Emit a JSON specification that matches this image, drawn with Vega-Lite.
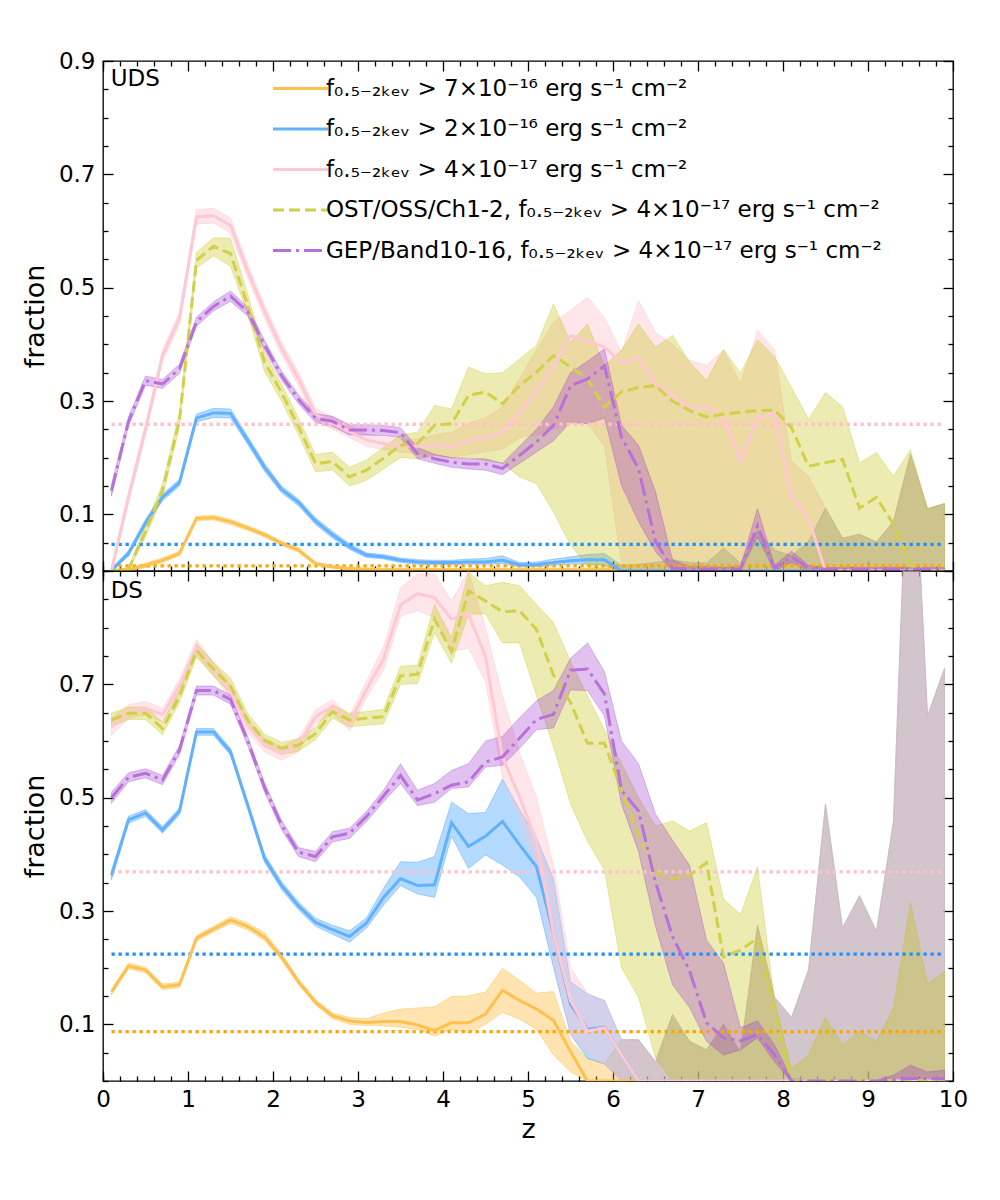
{
  "$schema": "https://vega.github.io/schema/vega-lite/v6.json",
  "padding": {"left": 20, "top": 49, "right": 5, "bottom": 5},
  "config": {
    "font": "DejaVu Sans",
    "view": {"stroke": "black", "strokeWidth": 1.3},
    "axis": {"domain": false, "grid": false, "tickColor": "black", "tickWidth": 1.3, "labelFont": "DejaVu Sans", "titleFont": "DejaVu Sans", "labelColor": "black", "titleColor": "black", "labelFontSize": 23, "titleFontSize": 27, "titleFontWeight": "normal", "labelFlush": false, "zindex": 1},
    "legend": {"labelFont": "DejaVu Sans"}
  },
  "datasets": {
    "uds": [
      {"s":"a","z":0.1,"m":0,"lo":0,"hi":0.003},{"s":"a","z":0.3,"m":0.002,"lo":0,"hi":0.005},{"s":"a","z":0.5,"m":0.01,"lo":0.006,"hi":0.014},{"s":"a","z":0.7,"m":0.019,"lo":0.015,"hi":0.023},{"s":"a","z":0.9,"m":0.031,"lo":0.027,"hi":0.035},
      {"s":"a","z":1.1,"m":0.093,"lo":0.089,"hi":0.097},{"s":"a","z":1.3,"m":0.094,"lo":0.09,"hi":0.098},{"s":"a","z":1.5,"m":0.087,"lo":0.082,"hi":0.091},{"s":"a","z":1.7,"m":0.076,"lo":0.072,"hi":0.08},{"s":"a","z":1.9,"m":0.064,"lo":0.06,"hi":0.068},
      {"s":"a","z":2.1,"m":0.049,"lo":0.045,"hi":0.053},{"s":"a","z":2.3,"m":0.037,"lo":0.033,"hi":0.041},{"s":"a","z":2.5,"m":0.013,"lo":0.01,"hi":0.016},{"s":"a","z":2.7,"m":0.007,"lo":0.005,"hi":0.01},{"s":"a","z":2.9,"m":0.004,"lo":0.002,"hi":0.006},
      {"s":"a","z":3.1,"m":0.003,"lo":0.001,"hi":0.005},{"s":"a","z":3.3,"m":0.002,"lo":0.001,"hi":0.004},{"s":"a","z":3.5,"m":0.002,"lo":0.001,"hi":0.004},{"s":"a","z":3.7,"m":0.002,"lo":0.001,"hi":0.004},{"s":"a","z":3.9,"m":0.002,"lo":0.001,"hi":0.004},
      {"s":"a","z":4.1,"m":0.002,"lo":0.001,"hi":0.004},{"s":"a","z":4.3,"m":0.002,"lo":0.001,"hi":0.004},{"s":"a","z":4.5,"m":0.002,"lo":0.001,"hi":0.004},{"s":"a","z":4.7,"m":0.002,"lo":0.001,"hi":0.004},{"s":"a","z":4.9,"m":0.002,"lo":0.001,"hi":0.004},
      {"s":"a","z":5.1,"m":0.002,"lo":0.001,"hi":0.004},{"s":"a","z":5.3,"m":0.002,"lo":0.001,"hi":0.004},{"s":"a","z":5.5,"m":0.002,"lo":0.001,"hi":0.004},{"s":"a","z":5.7,"m":0.002,"lo":0.001,"hi":0.004},{"s":"a","z":5.9,"m":0.002,"lo":0.001,"hi":0.004},
      {"s":"a","z":6.1,"m":0,"lo":0,"hi":0.01},{"s":"a","z":6.3,"m":0,"lo":0,"hi":0.012},{"s":"a","z":6.5,"m":0,"lo":0,"hi":0.015},{"s":"a","z":6.7,"m":0,"lo":0,"hi":0.02},{"s":"a","z":6.9,"m":0,"lo":0,"hi":0.015},
      {"s":"a","z":7.1,"m":0,"lo":0,"hi":0.014},{"s":"a","z":7.3,"m":0,"lo":0,"hi":0.04},{"s":"a","z":7.5,"m":0,"lo":0,"hi":0.014},{"s":"a","z":7.7,"m":0,"lo":0,"hi":0.07},{"s":"a","z":7.9,"m":0,"lo":0,"hi":0.037},
      {"s":"a","z":8.1,"m":0,"lo":0,"hi":0.027},{"s":"a","z":8.3,"m":0,"lo":0,"hi":0.052},{"s":"a","z":8.5,"m":0,"lo":0,"hi":0.111},{"s":"a","z":8.7,"m":0,"lo":0,"hi":0.058},{"s":"a","z":8.9,"m":0,"lo":0,"hi":0.065},
      {"s":"a","z":9.1,"m":0,"lo":0,"hi":0.051},{"s":"a","z":9.3,"m":0,"lo":0,"hi":0.088},{"s":"a","z":9.5,"m":0,"lo":0,"hi":0.206},{"s":"a","z":9.7,"m":0,"lo":0,"hi":0.11},{"s":"a","z":9.9,"m":0,"lo":0,"hi":0.119},

      {"s":"b","z":0.1,"m":0.001,"lo":0,"hi":0.005},{"s":"b","z":0.3,"m":0.031,"lo":0.026,"hi":0.036},{"s":"b","z":0.5,"m":0.085,"lo":0.079,"hi":0.091},{"s":"b","z":0.7,"m":0.13,"lo":0.124,"hi":0.136},{"s":"b","z":0.9,"m":0.156,"lo":0.15,"hi":0.162},
      {"s":"b","z":1.1,"m":0.27,"lo":0.263,"hi":0.277},{"s":"b","z":1.3,"m":0.279,"lo":0.271,"hi":0.287},{"s":"b","z":1.5,"m":0.278,"lo":0.27,"hi":0.286},{"s":"b","z":1.7,"m":0.231,"lo":0.224,"hi":0.238},{"s":"b","z":1.9,"m":0.183,"lo":0.176,"hi":0.19},
      {"s":"b","z":2.1,"m":0.144,"lo":0.138,"hi":0.15},{"s":"b","z":2.3,"m":0.121,"lo":0.115,"hi":0.127},{"s":"b","z":2.5,"m":0.088,"lo":0.082,"hi":0.094},{"s":"b","z":2.7,"m":0.064,"lo":0.058,"hi":0.07},{"s":"b","z":2.9,"m":0.043,"lo":0.038,"hi":0.048},
      {"s":"b","z":3.1,"m":0.028,"lo":0.024,"hi":0.032},{"s":"b","z":3.3,"m":0.025,"lo":0.021,"hi":0.029},{"s":"b","z":3.5,"m":0.019,"lo":0.015,"hi":0.023},{"s":"b","z":3.7,"m":0.016,"lo":0.012,"hi":0.02},{"s":"b","z":3.9,"m":0.015,"lo":0.011,"hi":0.019},
      {"s":"b","z":4.1,"m":0.015,"lo":0.011,"hi":0.019},{"s":"b","z":4.3,"m":0.016,"lo":0.012,"hi":0.021},{"s":"b","z":4.5,"m":0.016,"lo":0.012,"hi":0.022},{"s":"b","z":4.7,"m":0.019,"lo":0.013,"hi":0.027},{"s":"b","z":4.9,"m":0.011,"lo":0.007,"hi":0.015},
      {"s":"b","z":5.1,"m":0.011,"lo":0.007,"hi":0.016},{"s":"b","z":5.3,"m":0.015,"lo":0.01,"hi":0.021},{"s":"b","z":5.5,"m":0.018,"lo":0.012,"hi":0.025},{"s":"b","z":5.7,"m":0.02,"lo":0.012,"hi":0.029},{"s":"b","z":5.9,"m":0.02,"lo":0.01,"hi":0.031},
      {"s":"b","z":6.1,"m":0,"lo":0,"hi":0.01},{"s":"b","z":6.3,"m":0,"lo":0,"hi":0.012},{"s":"b","z":6.5,"m":0,"lo":0,"hi":0.015},{"s":"b","z":6.7,"m":0,"lo":0,"hi":0.02},{"s":"b","z":6.9,"m":0,"lo":0,"hi":0.015},
      {"s":"b","z":7.1,"m":0,"lo":0,"hi":0.014},{"s":"b","z":7.3,"m":0,"lo":0,"hi":0.04},{"s":"b","z":7.5,"m":0,"lo":0,"hi":0.014},{"s":"b","z":7.7,"m":0,"lo":0,"hi":0.07},{"s":"b","z":7.9,"m":0,"lo":0,"hi":0.037},
      {"s":"b","z":8.1,"m":0,"lo":0,"hi":0.027},{"s":"b","z":8.3,"m":0,"lo":0,"hi":0.052},{"s":"b","z":8.5,"m":0,"lo":0,"hi":0.111},{"s":"b","z":8.7,"m":0,"lo":0,"hi":0.058},{"s":"b","z":8.9,"m":0,"lo":0,"hi":0.065},
      {"s":"b","z":9.1,"m":0,"lo":0,"hi":0.051},{"s":"b","z":9.3,"m":0,"lo":0,"hi":0.088},{"s":"b","z":9.5,"m":0,"lo":0,"hi":0.206},{"s":"b","z":9.7,"m":0,"lo":0,"hi":0.11},{"s":"b","z":9.9,"m":0,"lo":0,"hi":0.119},

      {"s":"c","z":0.1,"m":0,"lo":0,"hi":0.01},{"s":"c","z":0.3,"m":0.13,"lo":0.12,"hi":0.14},{"s":"c","z":0.5,"m":0.25,"lo":0.24,"hi":0.26},{"s":"c","z":0.7,"m":0.38,"lo":0.37,"hi":0.39},{"s":"c","z":0.9,"m":0.446,"lo":0.435,"hi":0.457},
      {"s":"c","z":1.1,"m":0.625,"lo":0.612,"hi":0.638},{"s":"c","z":1.3,"m":0.627,"lo":0.614,"hi":0.64},{"s":"c","z":1.5,"m":0.61,"lo":0.597,"hi":0.623},{"s":"c","z":1.7,"m":0.53,"lo":0.518,"hi":0.542},{"s":"c","z":1.9,"m":0.458,"lo":0.446,"hi":0.47},
      {"s":"c","z":2.1,"m":0.393,"lo":0.381,"hi":0.405},{"s":"c","z":2.3,"m":0.339,"lo":0.327,"hi":0.351},{"s":"c","z":2.5,"m":0.276,"lo":0.265,"hi":0.287},{"s":"c","z":2.7,"m":0.261,"lo":0.25,"hi":0.272},{"s":"c","z":2.9,"m":0.246,"lo":0.235,"hi":0.257},
      {"s":"c","z":3.1,"m":0.231,"lo":0.22,"hi":0.242},{"s":"c","z":3.3,"m":0.225,"lo":0.214,"hi":0.236},{"s":"c","z":3.5,"m":0.221,"lo":0.21,"hi":0.232},{"s":"c","z":3.7,"m":0.22,"lo":0.207,"hi":0.233},{"s":"c","z":3.9,"m":0.222,"lo":0.205,"hi":0.24},
      {"s":"c","z":4.1,"m":0.219,"lo":0.2,"hi":0.245},{"s":"c","z":4.3,"m":0.23,"lo":0.205,"hi":0.26},{"s":"c","z":4.5,"m":0.236,"lo":0.21,"hi":0.27},{"s":"c","z":4.7,"m":0.245,"lo":0.215,"hi":0.29},{"s":"c","z":4.9,"m":0.28,"lo":0.235,"hi":0.34},
      {"s":"c","z":5.1,"m":0.316,"lo":0.24,"hi":0.39},{"s":"c","z":5.3,"m":0.362,"lo":0.25,"hi":0.44},{"s":"c","z":5.5,"m":0.415,"lo":0.26,"hi":0.46},{"s":"c","z":5.7,"m":0.406,"lo":0.26,"hi":0.483},{"s":"c","z":5.9,"m":0.395,"lo":0.22,"hi":0.447},
      {"s":"c","z":6.1,"m":0.368,"lo":0.01,"hi":0.386},{"s":"c","z":6.3,"m":0.377,"lo":0,"hi":0.477},{"s":"c","z":6.5,"m":0.33,"lo":0,"hi":0.421},{"s":"c","z":6.7,"m":0.31,"lo":0,"hi":0.4},{"s":"c","z":6.9,"m":0.288,"lo":0,"hi":0.372},
      {"s":"c","z":7.1,"m":0.291,"lo":0,"hi":0.363},{"s":"c","z":7.3,"m":0.271,"lo":0,"hi":0.39},{"s":"c","z":7.5,"m":0.194,"lo":0,"hi":0.33},{"s":"c","z":7.7,"m":0.271,"lo":0,"hi":0.425},{"s":"c","z":7.9,"m":0.277,"lo":0,"hi":0.39},
      {"s":"c","z":8.1,"m":0.132,"lo":0,"hi":0.194},{"s":"c","z":8.3,"m":0.093,"lo":0,"hi":0.167},{"s":"c","z":8.5,"m":0,"lo":0,"hi":0.111},{"s":"c","z":8.7,"m":0,"lo":0,"hi":0.058},{"s":"c","z":8.9,"m":0,"lo":0,"hi":0.065},
      {"s":"c","z":9.1,"m":0,"lo":0,"hi":0.051},{"s":"c","z":9.3,"m":0,"lo":0,"hi":0.088},{"s":"c","z":9.5,"m":0,"lo":0,"hi":0.206},{"s":"c","z":9.7,"m":0,"lo":0,"hi":0.11},{"s":"c","z":9.9,"m":0,"lo":0,"hi":0.119},

      {"s":"d","z":0.1,"m":0,"lo":0,"hi":0.002},{"s":"d","z":0.3,"m":0.003,"lo":0,"hi":0.006},{"s":"d","z":0.5,"m":0.07,"lo":0.06,"hi":0.08},{"s":"d","z":0.7,"m":0.142,"lo":0.13,"hi":0.154},{"s":"d","z":0.9,"m":0.267,"lo":0.255,"hi":0.28},
      {"s":"d","z":1.1,"m":0.548,"lo":0.535,"hi":0.562},{"s":"d","z":1.3,"m":0.573,"lo":0.556,"hi":0.588},{"s":"d","z":1.5,"m":0.56,"lo":0.538,"hi":0.587},{"s":"d","z":1.7,"m":0.47,"lo":0.455,"hi":0.49},{"s":"d","z":1.9,"m":0.369,"lo":0.352,"hi":0.386},
      {"s":"d","z":2.1,"m":0.315,"lo":0.3,"hi":0.33},{"s":"d","z":2.3,"m":0.255,"lo":0.24,"hi":0.27},{"s":"d","z":2.5,"m":0.19,"lo":0.175,"hi":0.205},{"s":"d","z":2.7,"m":0.193,"lo":0.178,"hi":0.21},{"s":"d","z":2.9,"m":0.166,"lo":0.15,"hi":0.183},
      {"s":"d","z":3.1,"m":0.178,"lo":0.16,"hi":0.196},{"s":"d","z":3.3,"m":0.199,"lo":0.18,"hi":0.218},{"s":"d","z":3.5,"m":0.222,"lo":0.2,"hi":0.24},{"s":"d","z":3.7,"m":0.225,"lo":0.198,"hi":0.245},{"s":"d","z":3.9,"m":0.257,"lo":0.204,"hi":0.292},
      {"s":"d","z":4.1,"m":0.26,"lo":0.2,"hi":0.286},{"s":"d","z":4.3,"m":0.31,"lo":0.2,"hi":0.36},{"s":"d","z":4.5,"m":0.316,"lo":0.195,"hi":0.348},{"s":"d","z":4.7,"m":0.295,"lo":0.19,"hi":0.35},{"s":"d","z":4.9,"m":0.327,"lo":0.166,"hi":0.374},
      {"s":"d","z":5.1,"m":0.351,"lo":0.154,"hi":0.398},{"s":"d","z":5.3,"m":0.38,"lo":0.104,"hi":0.471},{"s":"d","z":5.5,"m":0.36,"lo":0.046,"hi":0.404},{"s":"d","z":5.7,"m":0.339,"lo":0.008,"hi":0.436},{"s":"d","z":5.9,"m":0.289,"lo":0,"hi":0.362},
      {"s":"d","z":6.1,"m":0.316,"lo":0,"hi":0.39},{"s":"d","z":6.3,"m":0.324,"lo":0,"hi":0.436},{"s":"d","z":6.5,"m":0.327,"lo":0,"hi":0.395},{"s":"d","z":6.7,"m":0.3,"lo":0,"hi":0.416},{"s":"d","z":6.9,"m":0.283,"lo":0,"hi":0.369},
      {"s":"d","z":7.1,"m":0.272,"lo":0,"hi":0.336},{"s":"d","z":7.3,"m":0.277,"lo":0,"hi":0.391},{"s":"d","z":7.5,"m":0.28,"lo":0,"hi":0.349},{"s":"d","z":7.7,"m":0.283,"lo":0,"hi":0.408},{"s":"d","z":7.9,"m":0.284,"lo":0,"hi":0.378},
      {"s":"d","z":8.1,"m":0.253,"lo":0,"hi":0.324},{"s":"d","z":8.3,"m":0.185,"lo":0,"hi":0.268},{"s":"d","z":8.5,"m":0.191,"lo":0,"hi":0.315},{"s":"d","z":8.7,"m":0.197,"lo":0,"hi":0.29},{"s":"d","z":8.9,"m":0.111,"lo":0,"hi":0.191},
      {"s":"d","z":9.1,"m":0.13,"lo":0,"hi":0.209},{"s":"d","z":9.3,"m":0.082,"lo":0,"hi":0.167},{"s":"d","z":9.5,"m":0.01,"lo":0,"hi":0.214},{"s":"d","z":9.7,"m":0,"lo":0,"hi":0.11},{"s":"d","z":9.9,"m":0,"lo":0,"hi":0.119},

      {"s":"e","z":0.1,"m":0.142,"lo":0.132,"hi":0.152},{"s":"e","z":0.3,"m":0.264,"lo":0.256,"hi":0.272},{"s":"e","z":0.5,"m":0.336,"lo":0.328,"hi":0.344},{"s":"e","z":0.7,"m":0.33,"lo":0.322,"hi":0.338},{"s":"e","z":0.9,"m":0.357,"lo":0.349,"hi":0.365},
      {"s":"e","z":1.1,"m":0.44,"lo":0.432,"hi":0.448},{"s":"e","z":1.3,"m":0.467,"lo":0.459,"hi":0.475},{"s":"e","z":1.5,"m":0.485,"lo":0.476,"hi":0.494},{"s":"e","z":1.7,"m":0.458,"lo":0.45,"hi":0.466},{"s":"e","z":1.9,"m":0.399,"lo":0.391,"hi":0.407},
      {"s":"e","z":2.1,"m":0.345,"lo":0.337,"hi":0.353},{"s":"e","z":2.3,"m":0.303,"lo":0.295,"hi":0.311},{"s":"e","z":2.5,"m":0.27,"lo":0.262,"hi":0.278},{"s":"e","z":2.7,"m":0.264,"lo":0.255,"hi":0.273},{"s":"e","z":2.9,"m":0.249,"lo":0.24,"hi":0.258},
      {"s":"e","z":3.1,"m":0.249,"lo":0.24,"hi":0.258},{"s":"e","z":3.3,"m":0.248,"lo":0.239,"hi":0.257},{"s":"e","z":3.5,"m":0.244,"lo":0.235,"hi":0.253},{"s":"e","z":3.7,"m":0.207,"lo":0.198,"hi":0.218},{"s":"e","z":3.9,"m":0.198,"lo":0.19,"hi":0.206},
      {"s":"e","z":4.1,"m":0.192,"lo":0.183,"hi":0.2},{"s":"e","z":4.3,"m":0.189,"lo":0.18,"hi":0.198},{"s":"e","z":4.5,"m":0.189,"lo":0.178,"hi":0.198},{"s":"e","z":4.7,"m":0.181,"lo":0.17,"hi":0.19},{"s":"e","z":4.9,"m":0.204,"lo":0.19,"hi":0.22},
      {"s":"e","z":5.1,"m":0.228,"lo":0.21,"hi":0.25},{"s":"e","z":5.3,"m":0.257,"lo":0.23,"hi":0.29},{"s":"e","z":5.5,"m":0.327,"lo":0.263,"hi":0.35},{"s":"e","z":5.7,"m":0.339,"lo":0.26,"hi":0.37},{"s":"e","z":5.9,"m":0.362,"lo":0.27,"hi":0.392},
      {"s":"e","z":6.1,"m":0.236,"lo":0.151,"hi":0.257},{"s":"e","z":6.3,"m":0.181,"lo":0.087,"hi":0.222},{"s":"e","z":6.5,"m":0.052,"lo":0.034,"hi":0.14},{"s":"e","z":6.7,"m":0.005,"lo":0,"hi":0.02},{"s":"e","z":6.9,"m":0.003,"lo":0,"hi":0.008},
      {"s":"e","z":7.1,"m":0.003,"lo":0,"hi":0.008},{"s":"e","z":7.3,"m":0.002,"lo":0,"hi":0.006},{"s":"e","z":7.5,"m":0.003,"lo":0,"hi":0.008},{"s":"e","z":7.7,"m":0.08,"lo":0.06,"hi":0.11},{"s":"e","z":7.9,"m":0.005,"lo":0,"hi":0.01},
      {"s":"e","z":8.1,"m":0.025,"lo":0.015,"hi":0.035},{"s":"e","z":8.3,"m":0.005,"lo":0,"hi":0.01},{"s":"e","z":8.5,"m":0.003,"lo":0,"hi":0.006},{"s":"e","z":8.7,"m":0.003,"lo":0,"hi":0.006},{"s":"e","z":8.9,"m":0.003,"lo":0,"hi":0.006},
      {"s":"e","z":9.1,"m":0.003,"lo":0,"hi":0.006},{"s":"e","z":9.3,"m":0.003,"lo":0,"hi":0.006},{"s":"e","z":9.5,"m":0.003,"lo":0,"hi":0.006},{"s":"e","z":9.7,"m":0.003,"lo":0,"hi":0.006},{"s":"e","z":9.9,"m":0.003,"lo":0,"hi":0.006}
    ],
    "ds": [
      {"s":"a","z":0.1,"m":0.157,"lo":0.152,"hi":0.162},{"s":"a","z":0.3,"m":0.203,"lo":0.198,"hi":0.208},{"s":"a","z":0.5,"m":0.196,"lo":0.191,"hi":0.201},{"s":"a","z":0.7,"m":0.166,"lo":0.161,"hi":0.171},{"s":"a","z":0.9,"m":0.17,"lo":0.165,"hi":0.175},
      {"s":"a","z":1.1,"m":0.252,"lo":0.247,"hi":0.257},{"s":"a","z":1.3,"m":0.268,"lo":0.263,"hi":0.273},{"s":"a","z":1.5,"m":0.284,"lo":0.278,"hi":0.29},{"s":"a","z":1.7,"m":0.273,"lo":0.267,"hi":0.279},{"s":"a","z":1.9,"m":0.254,"lo":0.248,"hi":0.262},
      {"s":"a","z":2.1,"m":0.219,"lo":0.213,"hi":0.225},{"s":"a","z":2.3,"m":0.175,"lo":0.17,"hi":0.18},{"s":"a","z":2.5,"m":0.139,"lo":0.134,"hi":0.144},{"s":"a","z":2.7,"m":0.115,"lo":0.11,"hi":0.12},{"s":"a","z":2.9,"m":0.106,"lo":0.1,"hi":0.112},
      {"s":"a","z":3.1,"m":0.103,"lo":0.098,"hi":0.11},{"s":"a","z":3.3,"m":0.105,"lo":0.097,"hi":0.12},{"s":"a","z":3.5,"m":0.105,"lo":0.095,"hi":0.127},{"s":"a","z":3.7,"m":0.099,"lo":0.091,"hi":0.129},{"s":"a","z":3.9,"m":0.089,"lo":0.079,"hi":0.131},
      {"s":"a","z":4.1,"m":0.103,"lo":0.091,"hi":0.149},{"s":"a","z":4.3,"m":0.103,"lo":0.085,"hi":0.15},{"s":"a","z":4.5,"m":0.118,"lo":0.1,"hi":0.157},{"s":"a","z":4.7,"m":0.16,"lo":0.121,"hi":0.199},{"s":"a","z":4.9,"m":0.142,"lo":0.109,"hi":0.178},
      {"s":"a","z":5.1,"m":0.127,"lo":0.091,"hi":0.155},{"s":"a","z":5.3,"m":0.107,"lo":0.046,"hi":0.158},{"s":"a","z":5.5,"m":0.052,"lo":0.016,"hi":0.07},{"s":"a","z":5.7,"m":0,"lo":0,"hi":0.04},{"s":"a","z":5.9,"m":0,"lo":0,"hi":0.03},
      {"s":"a","z":6.1,"m":0,"lo":0,"hi":0.073},{"s":"a","z":6.3,"m":0,"lo":0,"hi":0.073},{"s":"a","z":6.5,"m":0,"lo":0,"hi":0.034},{"s":"a","z":6.7,"m":0,"lo":0,"hi":0.117},{"s":"a","z":6.9,"m":0,"lo":0,"hi":0.07},
      {"s":"a","z":7.1,"m":0,"lo":0,"hi":0.055},{"s":"a","z":7.3,"m":0,"lo":0,"hi":0.1},{"s":"a","z":7.5,"m":0,"lo":0,"hi":0.05},{"s":"a","z":7.7,"m":0,"lo":0,"hi":0.275},{"s":"a","z":7.9,"m":0,"lo":0,"hi":0.148},
      {"s":"a","z":8.1,"m":0,"lo":0,"hi":0.112},{"s":"a","z":8.3,"m":0,"lo":0,"hi":0.196},{"s":"a","z":8.5,"m":0,"lo":0,"hi":0.489},{"s":"a","z":8.7,"m":0,"lo":0,"hi":0.27},{"s":"a","z":8.9,"m":0,"lo":0,"hi":0.327},
      {"s":"a","z":9.1,"m":0,"lo":0,"hi":0.264},{"s":"a","z":9.3,"m":0,"lo":0,"hi":0.459},{"s":"a","z":9.5,"m":0,"lo":0,"hi":1.26},{"s":"a","z":9.7,"m":0,"lo":0,"hi":0.644},{"s":"a","z":9.9,"m":0,"lo":0,"hi":0.728},

      {"s":"b","z":0.1,"m":0.363,"lo":0.355,"hi":0.371},{"s":"b","z":0.3,"m":0.461,"lo":0.455,"hi":0.467},{"s":"b","z":0.5,"m":0.473,"lo":0.467,"hi":0.479},{"s":"b","z":0.7,"m":0.443,"lo":0.437,"hi":0.449},{"s":"b","z":0.9,"m":0.476,"lo":0.47,"hi":0.482},
      {"s":"b","z":1.1,"m":0.616,"lo":0.61,"hi":0.622},{"s":"b","z":1.3,"m":0.616,"lo":0.61,"hi":0.622},{"s":"b","z":1.5,"m":0.581,"lo":0.575,"hi":0.587},{"s":"b","z":1.7,"m":0.488,"lo":0.482,"hi":0.494},{"s":"b","z":1.9,"m":0.393,"lo":0.386,"hi":0.4},
      {"s":"b","z":2.1,"m":0.345,"lo":0.338,"hi":0.352},{"s":"b","z":2.3,"m":0.309,"lo":0.302,"hi":0.316},{"s":"b","z":2.5,"m":0.28,"lo":0.273,"hi":0.287},{"s":"b","z":2.7,"m":0.267,"lo":0.259,"hi":0.275},{"s":"b","z":2.9,"m":0.255,"lo":0.245,"hi":0.265},
      {"s":"b","z":3.1,"m":0.279,"lo":0.27,"hi":0.288},{"s":"b","z":3.3,"m":0.324,"lo":0.31,"hi":0.34},{"s":"b","z":3.5,"m":0.357,"lo":0.345,"hi":0.387},{"s":"b","z":3.7,"m":0.345,"lo":0.33,"hi":0.386},{"s":"b","z":3.9,"m":0.346,"lo":0.324,"hi":0.396},
      {"s":"b","z":4.1,"m":0.456,"lo":0.432,"hi":0.492},{"s":"b","z":4.3,"m":0.414,"lo":0.375,"hi":0.472},{"s":"b","z":4.5,"m":0.432,"lo":0.399,"hi":0.474},{"s":"b","z":4.7,"m":0.458,"lo":0.381,"hi":0.533},{"s":"b","z":4.9,"m":0.417,"lo":0.36,"hi":0.48},
      {"s":"b","z":5.1,"m":0.378,"lo":0.324,"hi":0.429},{"s":"b","z":5.3,"m":0.261,"lo":0.2,"hi":0.357},{"s":"b","z":5.5,"m":0.136,"lo":0.082,"hi":0.175},{"s":"b","z":5.7,"m":0.091,"lo":0.04,"hi":0.154},{"s":"b","z":5.9,"m":0.095,"lo":0.03,"hi":0.142},
      {"s":"b","z":6.1,"m":0.046,"lo":0,"hi":0.073},{"s":"b","z":6.3,"m":0,"lo":0,"hi":0.073},{"s":"b","z":6.5,"m":0,"lo":0,"hi":0.034},{"s":"b","z":6.7,"m":0,"lo":0,"hi":0.117},{"s":"b","z":6.9,"m":0,"lo":0,"hi":0.07},
      {"s":"b","z":7.1,"m":0,"lo":0,"hi":0.055},{"s":"b","z":7.3,"m":0,"lo":0,"hi":0.1},{"s":"b","z":7.5,"m":0,"lo":0,"hi":0.05},{"s":"b","z":7.7,"m":0,"lo":0,"hi":0.275},{"s":"b","z":7.9,"m":0,"lo":0,"hi":0.148},
      {"s":"b","z":8.1,"m":0,"lo":0,"hi":0.112},{"s":"b","z":8.3,"m":0,"lo":0,"hi":0.196},{"s":"b","z":8.5,"m":0,"lo":0,"hi":0.489},{"s":"b","z":8.7,"m":0,"lo":0,"hi":0.27},{"s":"b","z":8.9,"m":0,"lo":0,"hi":0.327},
      {"s":"b","z":9.1,"m":0,"lo":0,"hi":0.264},{"s":"b","z":9.3,"m":0,"lo":0,"hi":0.459},{"s":"b","z":9.5,"m":0,"lo":0,"hi":1.26},{"s":"b","z":9.7,"m":0,"lo":0,"hi":0.644},{"s":"b","z":9.9,"m":0,"lo":0,"hi":0.728},

      {"s":"c","z":0.1,"m":0.625,"lo":0.61,"hi":0.64},{"s":"c","z":0.3,"m":0.652,"lo":0.64,"hi":0.664},{"s":"c","z":0.5,"m":0.658,"lo":0.646,"hi":0.67},{"s":"c","z":0.7,"m":0.646,"lo":0.634,"hi":0.658},{"s":"c","z":0.9,"m":0.697,"lo":0.685,"hi":0.709},
      {"s":"c","z":1.1,"m":0.766,"lo":0.753,"hi":0.779},{"s":"c","z":1.3,"m":0.727,"lo":0.715,"hi":0.739},{"s":"c","z":1.5,"m":0.688,"lo":0.676,"hi":0.7},{"s":"c","z":1.7,"m":0.628,"lo":0.616,"hi":0.64},{"s":"c","z":1.9,"m":0.593,"lo":0.581,"hi":0.605},
      {"s":"c","z":2.1,"m":0.578,"lo":0.566,"hi":0.59},{"s":"c","z":2.3,"m":0.593,"lo":0.581,"hi":0.605},{"s":"c","z":2.5,"m":0.643,"lo":0.631,"hi":0.655},{"s":"c","z":2.7,"m":0.661,"lo":0.649,"hi":0.673},{"s":"c","z":2.9,"m":0.631,"lo":0.618,"hi":0.644},
      {"s":"c","z":3.1,"m":0.691,"lo":0.676,"hi":0.706},{"s":"c","z":3.3,"m":0.745,"lo":0.725,"hi":0.765},{"s":"c","z":3.5,"m":0.84,"lo":0.82,"hi":0.87},{"s":"c","z":3.7,"m":0.86,"lo":0.83,"hi":0.895},{"s":"c","z":3.9,"m":0.853,"lo":0.818,"hi":0.895},
      {"s":"c","z":4.1,"m":0.815,"lo":0.758,"hi":0.847},{"s":"c","z":4.3,"m":0.824,"lo":0.764,"hi":0.9},{"s":"c","z":4.5,"m":0.749,"lo":0.704,"hi":0.8},{"s":"c","z":4.7,"m":0.572,"lo":0.536,"hi":0.68},{"s":"c","z":4.9,"m":0.501,"lo":0.465,"hi":0.58},
      {"s":"c","z":5.1,"m":0.423,"lo":0.381,"hi":0.5},{"s":"c","z":5.3,"m":0.261,"lo":0.214,"hi":0.38},{"s":"c","z":5.5,"m":0.142,"lo":0.082,"hi":0.2},{"s":"c","z":5.7,"m":0.088,"lo":0.05,"hi":0.154},{"s":"c","z":5.9,"m":0.094,"lo":0.03,"hi":0.142},
      {"s":"c","z":6.1,"m":0.046,"lo":0,"hi":0.073},{"s":"c","z":6.3,"m":0,"lo":0,"hi":0.073},{"s":"c","z":6.5,"m":0,"lo":0,"hi":0.034},{"s":"c","z":6.7,"m":0,"lo":0,"hi":0.117},{"s":"c","z":6.9,"m":0,"lo":0,"hi":0.07},
      {"s":"c","z":7.1,"m":0,"lo":0,"hi":0.055},{"s":"c","z":7.3,"m":0,"lo":0,"hi":0.1},{"s":"c","z":7.5,"m":0,"lo":0,"hi":0.05},{"s":"c","z":7.7,"m":0,"lo":0,"hi":0.275},{"s":"c","z":7.9,"m":0,"lo":0,"hi":0.148},
      {"s":"c","z":8.1,"m":0,"lo":0,"hi":0.112},{"s":"c","z":8.3,"m":0,"lo":0,"hi":0.196},{"s":"c","z":8.5,"m":0,"lo":0,"hi":0.489},{"s":"c","z":8.7,"m":0,"lo":0,"hi":0.27},{"s":"c","z":8.9,"m":0,"lo":0,"hi":0.327},
      {"s":"c","z":9.1,"m":0,"lo":0,"hi":0.264},{"s":"c","z":9.3,"m":0,"lo":0,"hi":0.459},{"s":"c","z":9.5,"m":0,"lo":0,"hi":1.26},{"s":"c","z":9.7,"m":0,"lo":0,"hi":0.644},{"s":"c","z":9.9,"m":0,"lo":0,"hi":0.728},

      {"s":"d","z":0.1,"m":0.637,"lo":0.625,"hi":0.649},{"s":"d","z":0.3,"m":0.649,"lo":0.638,"hi":0.66},{"s":"d","z":0.5,"m":0.649,"lo":0.638,"hi":0.66},{"s":"d","z":0.7,"m":0.622,"lo":0.611,"hi":0.633},{"s":"d","z":0.9,"m":0.679,"lo":0.668,"hi":0.69},
      {"s":"d","z":1.1,"m":0.76,"lo":0.748,"hi":0.772},{"s":"d","z":1.3,"m":0.727,"lo":0.715,"hi":0.739},{"s":"d","z":1.5,"m":0.697,"lo":0.683,"hi":0.711},{"s":"d","z":1.7,"m":0.637,"lo":0.625,"hi":0.649},{"s":"d","z":1.9,"m":0.601,"lo":0.59,"hi":0.612},
      {"s":"d","z":2.1,"m":0.587,"lo":0.576,"hi":0.598},{"s":"d","z":2.3,"m":0.593,"lo":0.582,"hi":0.604},{"s":"d","z":2.5,"m":0.613,"lo":0.602,"hi":0.624},{"s":"d","z":2.7,"m":0.652,"lo":0.64,"hi":0.664},{"s":"d","z":2.9,"m":0.637,"lo":0.625,"hi":0.649},
      {"s":"d","z":3.1,"m":0.64,"lo":0.628,"hi":0.652},{"s":"d","z":3.3,"m":0.643,"lo":0.63,"hi":0.656},{"s":"d","z":3.5,"m":0.715,"lo":0.7,"hi":0.732},{"s":"d","z":3.7,"m":0.718,"lo":0.701,"hi":0.734},{"s":"d","z":3.9,"m":0.815,"lo":0.791,"hi":0.841},
      {"s":"d","z":4.1,"m":0.758,"lo":0.737,"hi":0.782},{"s":"d","z":4.3,"m":0.865,"lo":0.824,"hi":0.898},{"s":"d","z":4.5,"m":0.847,"lo":0.824,"hi":0.874},{"s":"d","z":4.7,"m":0.828,"lo":0.773,"hi":0.88},{"s":"d","z":4.9,"m":0.83,"lo":0.773,"hi":0.874},
      {"s":"d","z":5.1,"m":0.797,"lo":0.68,"hi":0.841},{"s":"d","z":5.3,"m":0.716,"lo":0.59,"hi":0.809},{"s":"d","z":5.5,"m":0.668,"lo":0.489,"hi":0.74},{"s":"d","z":5.7,"m":0.596,"lo":0.423,"hi":0.68},{"s":"d","z":5.9,"m":0.596,"lo":0.372,"hi":0.62},
      {"s":"d","z":6.1,"m":0.513,"lo":0.2,"hi":0.56},{"s":"d","z":6.3,"m":0.435,"lo":0.148,"hi":0.5},{"s":"d","z":6.5,"m":0.369,"lo":0.04,"hi":0.45},{"s":"d","z":6.7,"m":0.357,"lo":0,"hi":0.459},{"s":"d","z":6.9,"m":0.363,"lo":0,"hi":0.441},
      {"s":"d","z":7.1,"m":0.385,"lo":0,"hi":0.456},{"s":"d","z":7.3,"m":0.219,"lo":0,"hi":0.321},{"s":"d","z":7.5,"m":0.231,"lo":0,"hi":0.294},{"s":"d","z":7.7,"m":0.252,"lo":0,"hi":0.378},{"s":"d","z":7.9,"m":0.126,"lo":0,"hi":0.142},
      {"s":"d","z":8.1,"m":0,"lo":0,"hi":0.022},{"s":"d","z":8.3,"m":0,"lo":0,"hi":0.046},{"s":"d","z":8.5,"m":0,"lo":0,"hi":0.112},{"s":"d","z":8.7,"m":0,"lo":0,"hi":0.064},{"s":"d","z":8.9,"m":0,"lo":0,"hi":0.088},
      {"s":"d","z":9.1,"m":0,"lo":0,"hi":0.07},{"s":"d","z":9.3,"m":0,"lo":0,"hi":0.13},{"s":"d","z":9.5,"m":0,"lo":0,"hi":0.315},{"s":"d","z":9.7,"m":0,"lo":0,"hi":0.172},{"s":"d","z":9.9,"m":0,"lo":0,"hi":0.193},

      {"s":"e","z":0.1,"m":0.5,"lo":0.49,"hi":0.51},{"s":"e","z":0.3,"m":0.536,"lo":0.528,"hi":0.544},{"s":"e","z":0.5,"m":0.543,"lo":0.535,"hi":0.551},{"s":"e","z":0.7,"m":0.531,"lo":0.523,"hi":0.539},{"s":"e","z":0.9,"m":0.584,"lo":0.576,"hi":0.592},
      {"s":"e","z":1.1,"m":0.689,"lo":0.681,"hi":0.697},{"s":"e","z":1.3,"m":0.689,"lo":0.681,"hi":0.697},{"s":"e","z":1.5,"m":0.673,"lo":0.665,"hi":0.681},{"s":"e","z":1.7,"m":0.601,"lo":0.593,"hi":0.609},{"s":"e","z":1.9,"m":0.518,"lo":0.51,"hi":0.526},
      {"s":"e","z":2.1,"m":0.452,"lo":0.444,"hi":0.46},{"s":"e","z":2.3,"m":0.404,"lo":0.396,"hi":0.412},{"s":"e","z":2.5,"m":0.396,"lo":0.387,"hi":0.405},{"s":"e","z":2.7,"m":0.431,"lo":0.422,"hi":0.44},{"s":"e","z":2.9,"m":0.437,"lo":0.428,"hi":0.446},
      {"s":"e","z":3.1,"m":0.467,"lo":0.458,"hi":0.476},{"s":"e","z":3.3,"m":0.503,"lo":0.493,"hi":0.513},{"s":"e","z":3.5,"m":0.539,"lo":0.525,"hi":0.56},{"s":"e","z":3.7,"m":0.496,"lo":0.486,"hi":0.513},{"s":"e","z":3.9,"m":0.507,"lo":0.492,"hi":0.525},
      {"s":"e","z":4.1,"m":0.522,"lo":0.516,"hi":0.548},{"s":"e","z":4.3,"m":0.528,"lo":0.519,"hi":0.56},{"s":"e","z":4.5,"m":0.563,"lo":0.554,"hi":0.6},{"s":"e","z":4.7,"m":0.572,"lo":0.557,"hi":0.608},{"s":"e","z":4.9,"m":0.605,"lo":0.587,"hi":0.641},
      {"s":"e","z":5.1,"m":0.638,"lo":0.62,"hi":0.671},{"s":"e","z":5.3,"m":0.647,"lo":0.623,"hi":0.689},{"s":"e","z":5.5,"m":0.725,"lo":0.69,"hi":0.746},{"s":"e","z":5.7,"m":0.727,"lo":0.689,"hi":0.773},{"s":"e","z":5.9,"m":0.683,"lo":0.644,"hi":0.722},
      {"s":"e","z":6.1,"m":0.513,"lo":0.489,"hi":0.6},{"s":"e","z":6.3,"m":0.477,"lo":0.405,"hi":0.56},{"s":"e","z":6.5,"m":0.351,"lo":0.273,"hi":0.471},{"s":"e","z":6.7,"m":0.255,"lo":0.17,"hi":0.425},{"s":"e","z":6.9,"m":0.195,"lo":0.13,"hi":0.381},
      {"s":"e","z":7.1,"m":0.103,"lo":0.07,"hi":0.249},{"s":"e","z":7.3,"m":0.076,"lo":0.046,"hi":0.208},{"s":"e","z":7.5,"m":0.071,"lo":0.055,"hi":0.094},{"s":"e","z":7.7,"m":0.082,"lo":0.076,"hi":0.106},{"s":"e","z":7.9,"m":0.046,"lo":0.034,"hi":0.064},
      {"s":"e","z":8.1,"m":0,"lo":0,"hi":0.004},{"s":"e","z":8.3,"m":0,"lo":0,"hi":0.002},{"s":"e","z":8.5,"m":0,"lo":0,"hi":0.002},{"s":"e","z":8.7,"m":0,"lo":0,"hi":0.002},{"s":"e","z":8.9,"m":0,"lo":0,"hi":0.002},
      {"s":"e","z":9.1,"m":0,"lo":0,"hi":0.002},{"s":"e","z":9.3,"m":0.002,"lo":0,"hi":0.01},{"s":"e","z":9.5,"m":0.005,"lo":0,"hi":0.028},{"s":"e","z":9.7,"m":0.004,"lo":0,"hi":0.016},{"s":"e","z":9.9,"m":0.004,"lo":0,"hi":0.019}
    ],
    "udsref": [{"r":"rc","z1":0.1,"z2":9.9,"v":0.259},{"r":"rb","z1":0.1,"z2":9.9,"v":0.047},{"r":"ra","z1":0.1,"z2":9.9,"v":0.009}],
    "dsref": [{"r":"rc","z1":0.1,"z2":9.9,"v":0.369},{"r":"rb","z1":0.1,"z2":9.9,"v":0.224},{"r":"ra","z1":0.1,"z2":9.9,"v":0.087}],
    "udslab": [{"z":0.09,"v":0.868,"t":"UDS"}],
    "dslab": [{"z":0.09,"v":0.865,"t":"DS"}]
  },
  "spacing": 0,
  "bounds": "flush",
  "resolve": {"scale": {"color": "independent", "strokeDash": "independent", "fill": "independent", "stroke": "independent"}},
  "vconcat": [
    {
      "width": 850, "height": 510,
      "resolve": {"axis": {"x": "independent", "y": "independent"}},
      "layer": [
        {
          "data": {"name": "uds"},
          "mark": {"type": "area", "clip": true, "strokeWidth": 1},
          "encoding": {
            "x": {"field": "z", "type": "quantitative", "scale": {"domain": [0, 10], "nice": false}, "axis": {"orient": "bottom", "values": [0,1,2,3,4,5,6,7,8,9,10], "tickSize": -10, "labels": false, "title": null}},
            "y": {"field": "lo", "type": "quantitative", "scale": {"domain": [0, 0.9], "nice": false, "zero": false}, "axis": {"orient": "left", "values": [0.1,0.3,0.5,0.7,0.9], "format": ".1f", "tickSize": -10, "labelPadding": 18, "title": "fraction", "titlePadding": 9}},
            "y2": {"field": "hi"},
            "fill": {"field": "s", "type": "nominal", "scale": {"domain": ["a","b","c","d","e","ra","rb","rc"], "range": ["rgba(255,165,0,0.3)","rgba(30,144,255,0.33)","rgba(255,192,203,0.4)","rgba(191,191,0,0.3)","rgba(153,50,204,0.3)","transparent","transparent","transparent"]}, "legend": null},
            "stroke": {"field": "s", "type": "nominal", "scale": {"domain": ["a","b","c","d","e","ra","rb","rc"], "range": ["rgba(255,165,0,0.3)","rgba(30,144,255,0.33)","rgba(255,192,203,0.4)","rgba(191,191,0,0.3)","rgba(153,50,204,0.3)","#FFA500","#1E90FF","#FFC0CB"]}, "legend": null}
          }
        },
        {
          "data": {"name": "udsref"},
          "mark": {"type": "rule", "strokeWidth": 3.3, "strokeDash": [3.3, 3.7]},
          "encoding": {
            "x": {"field": "z1", "type": "quantitative", "axis": {"orient": "bottom", "values": [0,0.2,0.4,0.6,0.8,1.2,1.4,1.6,1.8,2.2,2.4,2.6,2.8,3.2,3.4,3.6,3.8,4.2,4.4,4.6,4.8,5.2,5.4,5.6,5.8,6.2,6.4,6.6,6.8,7.2,7.4,7.6,7.8,8.2,8.4,8.6,8.8,9.2,9.4,9.6,9.8], "tickSize": -5, "labels": false, "title": null}},
            "x2": {"field": "z2"},
            "y": {"field": "v", "type": "quantitative", "axis": {"orient": "left", "values": [0,0.05,0.15,0.2,0.25,0.35,0.4,0.45,0.55,0.6,0.65,0.75,0.8,0.85], "tickSize": -5, "labels": false, "title": null}},
            "stroke": {"field": "r", "type": "nominal", "legend": null}
          }
        },
        {
          "data": {"name": "uds"},
          "mark": {"type": "line", "clip": true, "strokeWidth": 3},
          "encoding": {
            "x": {"field": "z", "type": "quantitative", "axis": {"orient": "top", "values": [0,1,2,3,4,5,6,7,8,9,10], "tickSize": -10, "labels": false, "title": null}},
            "y": {"field": "m", "type": "quantitative", "axis": {"orient": "right", "values": [0.1,0.3,0.5,0.7,0.9], "tickSize": -10, "labels": false, "title": null}},
            "color": {"field": "s", "type": "nominal", "scale": {"domain": ["a","b","c","d","e"], "range": ["#FFC04D","#62B1FF","#FFC8D2","#D0D04A","#B870DB"]},
              "legend": {"orient": "none", "legendX": 182, "legendY": 12, "title": null, "padding": 0, "symbolType": "M-2,0L2,0", "symbolSize": 756, "symbolStrokeWidth": 3, "labelOffset": 10, "labelFontSize": 23, "labelLimit": 900, "rowPadding": 12.5, "labelColor": "black",
                "labelExpr": "datum.label == 'a' ? 'f₀.₅₋₂ₖₑᵥ > 7×10⁻¹⁶ erg s⁻¹ cm⁻²' : datum.label == 'b' ? 'f₀.₅₋₂ₖₑᵥ > 2×10⁻¹⁶ erg s⁻¹ cm⁻²' : datum.label == 'c' ? 'f₀.₅₋₂ₖₑᵥ > 4×10⁻¹⁷ erg s⁻¹ cm⁻²' : datum.label == 'd' ? 'OST/OSS/Ch1-2, f₀.₅₋₂ₖₑᵥ > 4×10⁻¹⁷ erg s⁻¹ cm⁻²' : 'GEP/Band10-16, f₀.₅₋₂ₖₑᵥ > 4×10⁻¹⁷ erg s⁻¹ cm⁻²'"}},
            "strokeDash": {"field": "s", "type": "nominal", "scale": {"domain": ["a","b","c","d","e"], "range": [[1,0],[1,0],[1,0],[11,5],[18,5,3,5]]},
              "legend": {"orient": "none", "legendX": 182, "legendY": 12, "title": null, "padding": 0, "symbolType": "M-2,0L2,0", "symbolSize": 756, "symbolStrokeWidth": 3, "labelOffset": 10, "labelFontSize": 23, "labelLimit": 900, "rowPadding": 12.5, "labelColor": "black",
                "labelExpr": "datum.label == 'a' ? 'f₀.₅₋₂ₖₑᵥ > 7×10⁻¹⁶ erg s⁻¹ cm⁻²' : datum.label == 'b' ? 'f₀.₅₋₂ₖₑᵥ > 2×10⁻¹⁶ erg s⁻¹ cm⁻²' : datum.label == 'c' ? 'f₀.₅₋₂ₖₑᵥ > 4×10⁻¹⁷ erg s⁻¹ cm⁻²' : datum.label == 'd' ? 'OST/OSS/Ch1-2, f₀.₅₋₂ₖₑᵥ > 4×10⁻¹⁷ erg s⁻¹ cm⁻²' : 'GEP/Band10-16, f₀.₅₋₂ₖₑᵥ > 4×10⁻¹⁷ erg s⁻¹ cm⁻²'"}}
          }
        },
        {
          "data": {"name": "udslab"},
          "mark": {"type": "text", "align": "left", "baseline": "middle", "fontSize": 23, "font": "DejaVu Sans", "color": "black"},
          "encoding": {
            "x": {"field": "z", "type": "quantitative", "axis": {"orient": "top", "values": [0,0.2,0.4,0.6,0.8,1.2,1.4,1.6,1.8,2.2,2.4,2.6,2.8,3.2,3.4,3.6,3.8,4.2,4.4,4.6,4.8,5.2,5.4,5.6,5.8,6.2,6.4,6.6,6.8,7.2,7.4,7.6,7.8,8.2,8.4,8.6,8.8,9.2,9.4,9.6,9.8], "tickSize": -5, "labels": false, "title": null}},
            "y": {"field": "v", "type": "quantitative", "axis": {"orient": "right", "values": [0,0.05,0.15,0.2,0.25,0.35,0.4,0.45,0.55,0.6,0.65,0.75,0.8,0.85], "tickSize": -5, "labels": false, "title": null}},
            "text": {"field": "t"}
          }
        }
      ]
    },
    {
      "width": 850, "height": 510,
      "resolve": {"axis": {"x": "independent", "y": "independent"}},
      "layer": [
        {
          "data": {"name": "ds"},
          "mark": {"type": "area", "clip": true, "strokeWidth": 1},
          "encoding": {
            "x": {"field": "z", "type": "quantitative", "scale": {"domain": [0, 10], "nice": false}, "axis": {"orient": "bottom", "values": [0,1,2,3,4,5,6,7,8,9,10], "format": "d", "tickSize": -10, "labelPadding": 17, "title": "z", "titlePadding": 5}},
            "y": {"field": "lo", "type": "quantitative", "scale": {"domain": [0, 0.9], "nice": false, "zero": false}, "axis": {"orient": "left", "values": [0.1,0.3,0.5,0.7,0.9], "format": ".1f", "tickSize": -10, "labelPadding": 18, "title": "fraction", "titlePadding": 9}},
            "y2": {"field": "hi"},
            "fill": {"field": "s", "type": "nominal", "scale": {"domain": ["a","b","c","d","e","ra","rb","rc"], "range": ["rgba(255,165,0,0.3)","rgba(30,144,255,0.33)","rgba(255,192,203,0.4)","rgba(191,191,0,0.3)","rgba(153,50,204,0.3)","transparent","transparent","transparent"]}, "legend": null},
            "stroke": {"field": "s", "type": "nominal", "scale": {"domain": ["a","b","c","d","e","ra","rb","rc"], "range": ["rgba(255,165,0,0.3)","rgba(30,144,255,0.33)","rgba(255,192,203,0.4)","rgba(191,191,0,0.3)","rgba(153,50,204,0.3)","#FFA500","#1E90FF","#FFC0CB"]}, "legend": null}
          }
        },
        {
          "data": {"name": "dsref"},
          "mark": {"type": "rule", "strokeWidth": 3.3, "strokeDash": [3.3, 3.7]},
          "encoding": {
            "x": {"field": "z1", "type": "quantitative", "axis": {"orient": "bottom", "values": [0,0.2,0.4,0.6,0.8,1.2,1.4,1.6,1.8,2.2,2.4,2.6,2.8,3.2,3.4,3.6,3.8,4.2,4.4,4.6,4.8,5.2,5.4,5.6,5.8,6.2,6.4,6.6,6.8,7.2,7.4,7.6,7.8,8.2,8.4,8.6,8.8,9.2,9.4,9.6,9.8], "tickSize": -5, "labels": false, "title": null}},
            "x2": {"field": "z2"},
            "y": {"field": "v", "type": "quantitative", "axis": {"orient": "left", "values": [0,0.05,0.15,0.2,0.25,0.35,0.4,0.45,0.55,0.6,0.65,0.75,0.8,0.85], "tickSize": -5, "labels": false, "title": null}},
            "stroke": {"field": "r", "type": "nominal", "legend": null}
          }
        },
        {
          "data": {"name": "ds"},
          "mark": {"type": "line", "clip": true, "strokeWidth": 3},
          "encoding": {
            "x": {"field": "z", "type": "quantitative", "axis": {"orient": "top", "values": [0,1,2,3,4,5,6,7,8,9,10], "tickSize": -10, "labels": false, "title": null}},
            "y": {"field": "m", "type": "quantitative", "axis": {"orient": "right", "values": [0.1,0.3,0.5,0.7,0.9], "tickSize": -10, "labels": false, "title": null}},
            "color": {"field": "s", "type": "nominal", "scale": {"domain": ["a","b","c","d","e"], "range": ["#FFC04D","#62B1FF","#FFC8D2","#D0D04A","#B870DB"]}, "legend": null},
            "strokeDash": {"field": "s", "type": "nominal", "scale": {"domain": ["a","b","c","d","e"], "range": [[1,0],[1,0],[1,0],[11,5],[18,5,3,5]]}, "legend": null}
          }
        },
        {
          "data": {"name": "dslab"},
          "mark": {"type": "text", "align": "left", "baseline": "middle", "fontSize": 23, "font": "DejaVu Sans", "color": "black"},
          "encoding": {
            "x": {"field": "z", "type": "quantitative", "axis": {"orient": "top", "values": [0,0.2,0.4,0.6,0.8,1.2,1.4,1.6,1.8,2.2,2.4,2.6,2.8,3.2,3.4,3.6,3.8,4.2,4.4,4.6,4.8,5.2,5.4,5.6,5.8,6.2,6.4,6.6,6.8,7.2,7.4,7.6,7.8,8.2,8.4,8.6,8.8,9.2,9.4,9.6,9.8], "tickSize": -5, "labels": false, "title": null}},
            "y": {"field": "v", "type": "quantitative", "axis": {"orient": "right", "values": [0,0.05,0.15,0.2,0.25,0.35,0.4,0.45,0.55,0.6,0.65,0.75,0.8,0.85], "tickSize": -5, "labels": false, "title": null}},
            "text": {"field": "t"}
          }
        }
      ]
    }
  ]
}
